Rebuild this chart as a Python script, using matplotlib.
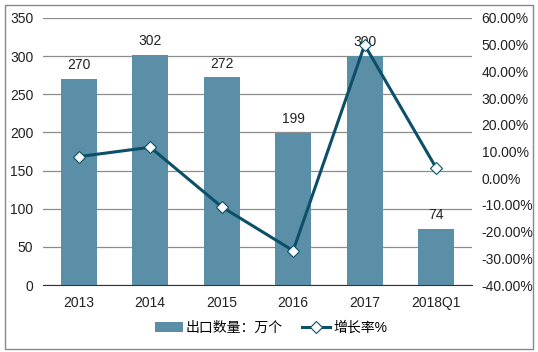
import matplotlib.pyplot as plt
import numpy as np
from matplotlib.patches import Rectangle
from matplotlib.ticker import FuncFormatter

plt.rcParams['font.family'] = ['Liberation Sans', 'Noto Sans CJK SC', 'DejaVu Sans']

# data
categories = ['2013', '2014', '2015', '2016', '2017', '2018Q1']
export_qty = [270, 302, 272, 199, 300, 74]          # 出口数量：万个
growth_pct = [8.1, 11.6, -10.7, -27.1, 49.9, 3.9]   # 增长率%

bar_color = '#5b8fa8'
line_color = '#0b5068'

fig = plt.figure(figsize=(5.38, 3.52), dpi=100)
ax = fig.add_axes([0.080, 0.19, 0.797, 0.759])
ax2 = ax.twinx()

x = np.arange(len(categories))
ax.bar(x, export_qty, width=0.505, color=bar_color, zorder=2,
       label='出口数量：万个')
for xi, v in zip(x, export_qty):
    ax.annotate(str(v), (xi, v), xytext=(0, 5), textcoords='offset points',
                ha='center', va='bottom', fontsize=10, color='#222222')

ax.set_xlim(-0.5, len(categories) - 0.5)
ax.set_ylim(0, 350)
ax.set_yticks(range(0, 351, 50))
ax.set_xticks(x)
ax.set_xticklabels(categories)
ax.yaxis.grid(True, color='#8c8c8c', linewidth=0.9, zorder=0)
ax.set_axisbelow(True)
for s in ['top', 'left', 'right']:
    ax.spines[s].set_visible(False)
ax.spines['bottom'].set_color('#333333')
ax.tick_params(axis='both', length=0, labelsize=10, colors='#222222')
ax.tick_params(axis='x', pad=8)
ax.tick_params(axis='y', pad=7)

ax2.plot(x, growth_pct, color=line_color, linewidth=2.2, marker='D',
         markersize=6.5, markerfacecolor='white', markeredgecolor=line_color,
         markeredgewidth=0.8, label='增长率%', zorder=3)
ax2.set_ylim(-40, 60)
ax2.set_yticks(range(-40, 61, 10))
ax2.yaxis.set_major_formatter(FuncFormatter(lambda v, p: f'{v:.2f}%'))
for s in ax2.spines.values():
    s.set_visible(False)
ax2.tick_params(axis='y', length=0, labelsize=10, colors='#222222', pad=7)

h1, l1 = ax.get_legend_handles_labels()
h2, l2 = ax2.get_legend_handles_labels()
fig.legend(h1 + h2, l1 + l2, loc='center', bbox_to_anchor=(0.504, 0.068),
           ncol=2, frameon=False, fontsize=10, handlelength=2.0,
           handletextpad=0.2, columnspacing=1.4, borderaxespad=0)

# outer frame
fig.patches.append(Rectangle((0.009, 0.009), 0.982, 0.978, transform=fig.transFigure,
                             fill=False, edgecolor='#888888', linewidth=1.0))

plt.savefig('out.png', dpi=100)
